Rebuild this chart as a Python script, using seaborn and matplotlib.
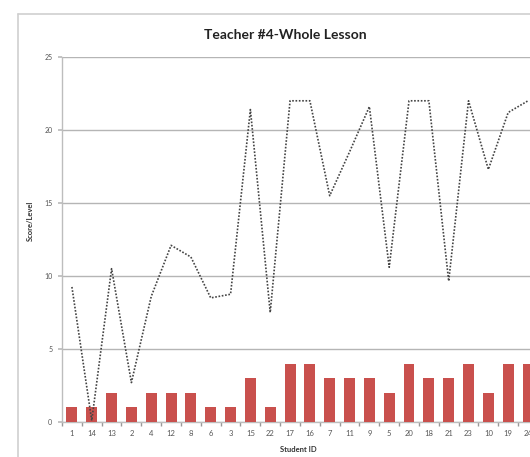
import numpy as np
import pandas as pd
import seaborn as sns
import matplotlib
matplotlib.use("Agg")
import matplotlib.pyplot as plt
from matplotlib.lines import Line2D

student_ids = ["1", "14", "13", "2", "4", "12", "8", "6", "3", "15", "22", "17",
               "16", "7", "11", "9", "5", "20", "18", "21", "23", "10", "19", "24"]
level = [1, 1, 2, 1, 2, 2, 2, 1, 1, 3, 1, 4, 4, 3, 3, 3, 2, 4, 3, 3, 4, 2, 4, 4]
score = [9.25, 0.1, 10.5, 2.7, 8.6, 12.1, 11.3, 8.5, 8.75, 21.4, 7.5, 22.0,
         22.0, 15.5, 18.5, 21.6, 10.6, 22.0, 22.0, 9.65, 22.0, 17.3, 21.2, 22.0]
y_ticks = [0, 5, 10, 15, 20, 25]

df = pd.DataFrame({"student": student_ids, "level": level, "score": score,
                   "pos": np.arange(len(student_ids))})

sns.set_theme(style="white")
plt.rcParams["font.family"] = ["Lato", "DejaVu Sans"]

fig = plt.figure(figsize=(5.3, 4.57), dpi=100)
ax = fig.add_axes([62 / 530, 1 - 422 / 457, 1 - 62 / 530, (422 - 57) / 457])

sns.barplot(data=df, x="student", y="level", order=student_ids, color="#C9504D",
            saturation=1, width=0.55, linewidth=0, ax=ax, zorder=3)
sns.lineplot(data=df, x="pos", y="score", color="#444444", linestyle=(0, (1, 1)),
             linewidth=1.2, sort=False, ax=ax, zorder=4)

ax.set_xlim(-0.5, 23.1)
ax.set_ylim(0, 25)
ax.set_yticks(y_ticks)
ax.yaxis.grid(True, color="#b5b5b5", linewidth=1.0)
ax.set_axisbelow(True)
for s in ["top", "right"]:
    ax.spines[s].set_visible(False)
for s in ["left", "bottom"]:
    ax.spines[s].set_color("#bdbdbd")
    ax.spines[s].set_linewidth(1.0)

ax.tick_params(axis="y", labelsize=5, colors="#555555", length=3, left=True,
               color="#bdbdbd", pad=4)
ax.tick_params(axis="x", labelsize=5.5, colors="#555555", length=0, pad=6)
ax.set_xticks(np.arange(-0.5, 23.5, 1), minor=True)
ax.tick_params(axis="x", which="minor", length=3, color="#999999", bottom=True)

ax.set_xlabel("Student ID", fontsize=5.5, color="#333333", fontweight="bold", labelpad=3)
ax.xaxis.set_label_coords((298 - 62) / (530 - 62), -0.065)
ax.set_ylabel("Score/Level", fontsize=5.5, color="#333333", fontweight="bold")
ax.yaxis.set_label_coords(-(62 - 34) / (530 - 62), 0.55)

fig.text(285 / 530, 1 - 35 / 457, "Teacher #4-Whole Lesson", ha="center", va="center",
         fontsize=10, fontweight="bold", color="#222222")

# outer chart border
fig.add_artist(Line2D([18 / 530, 18 / 530], [0, 1 - 14 / 457], color="#cfcfcf", lw=1.2))
fig.add_artist(Line2D([18 / 530, 1], [1 - 14 / 457, 1 - 14 / 457], color="#cfcfcf", lw=1.2))

fig.savefig("out.png", dpi=100)
